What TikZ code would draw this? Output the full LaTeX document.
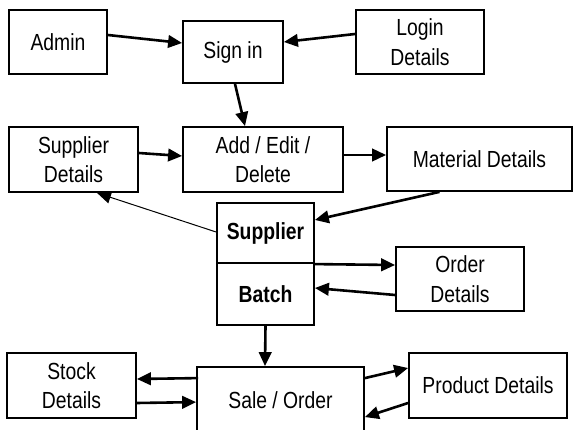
\documentclass[tikz,border=0pt]{standalone}
\usepackage{fontspec}
\setmainfont{Liberation Sans}[FakeStretch=0.83]
\usetikzlibrary{arrows.meta}
\begin{document}
\begin{tikzpicture}[x=1pt,y=-1pt,
  box/.style={draw, line width=1.8pt, inner sep=0pt, align=center,
    font=\fontsize{23.3}{29.5}\selectfont},
  boldbox/.style={box, font=\fontsize{23.3}{29.5}\selectfont\bfseries},
  arr/.style={line width=2.6pt, -{Triangle[length=14pt,width=12.5pt]}},
  thinarr/.style={line width=1pt, -{Triangle[length=14pt,width=12.5pt]}}]
\useasboundingbox (0,0) rectangle (573,430);
\clip (0,0) rectangle (573,430);

% boxes
\node[box, minimum width=98pt,  minimum height=64pt] (admin)  at (58,42)      {Admin};
\node[box, minimum width=100pt, minimum height=62pt] (signin) at (233,52)     {Sign in};
\node[box, minimum width=128pt, minimum height=64pt] (login)  at (420,42)     {Login\\Details};
\node[box, minimum width=129pt, minimum height=65pt] (supd)   at (73.5,159.5) {Supplier\\Details};
\node[box, minimum width=160pt, minimum height=65pt] (add)    at (263,159.5)  {Add / Edit /\\Delete};
\node[box, minimum width=185pt, minimum height=64pt] (mat)    at (479.5,159)  {Material Details};
\node[boldbox, minimum width=97pt, minimum height=60pt] (sup) at (265.5,233)   {Supplier};
\node[boldbox, minimum width=97pt, minimum height=62pt] (bat) at (265.5,294)   {Batch};
\node[box, minimum width=128pt, minimum height=64pt] (order)  at (460,279)    {Order\\Details};
\node[box, minimum width=129pt, minimum height=65pt] (stock)  at (71.5,385.5) {Stock\\Details};
\node[box, minimum width=167pt, minimum height=66pt] (sale)   at (280.5,400)  {Sale / Order};
\node[box, minimum width=158pt, minimum height=65pt] (prod)   at (488,385.5)  {Product Details};

% connectors
\draw[arr] ([yshift=7pt]admin.east) -- ([yshift=9pt]signin.west);
\draw[arr] ([yshift=8pt]login.west) -- ([yshift=10pt]signin.east);
\draw[arr] ([xshift=2pt]signin.south) -- ([xshift=-18pt]add.north);
\draw[arr] ([yshift=6.5pt]supd.east) -- ([yshift=3.5pt]add.west);
\draw[arr] ([yshift=4.5pt]add.east) -- ([yshift=4pt]mat.west);
\draw[arr] ([xshift=-40pt]mat.south) -- ([yshift=13pt]sup.east);
\draw[thinarr] ([yshift=1pt]sup.west) -- ([xshift=23.5pt]supd.south);
\draw[arr] ([yshift=-2pt]bat.north east) -- ([yshift=14pt]order.west);
\draw[arr] ([yshift=-16pt]order.west) -- ([yshift=6pt]bat.east);
\draw[arr] (bat.south) -- ([xshift=-15.5pt]sale.north);
\draw[arr] ([xshift=2pt,yshift=-12pt]sale.north west) -- ([yshift=6.5pt]stock.east);
\draw[arr] ([yshift=-17.5pt]stock.east) -- ([yshift=-36pt]sale.north west);
\draw[arr] ([yshift=-12pt]sale.north east) -- ([yshift=17.5pt]prod.west);
\draw[arr] ([yshift=-17.5pt]prod.west) -- ([yshift=-51pt]sale.north east);
\end{tikzpicture}
\end{document}
